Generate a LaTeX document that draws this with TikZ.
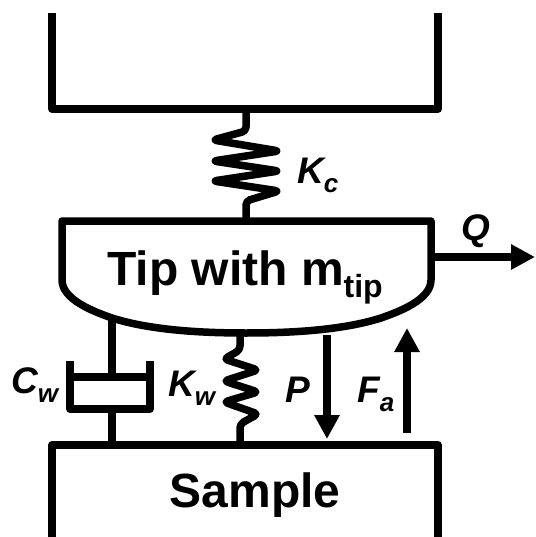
\documentclass[tikz,border=0pt]{standalone}
\usepackage{fontspec}
\setmainfont{Liberation Sans}
\usepackage{tikz}
\usetikzlibrary{arrows.meta}
\tikzset{
  thick line/.style={line width=7.5pt,line join=round},
  force/.style={line width=8pt,-{Triangle[length=24pt,width=24pt]}},
  big label/.style={font=\fontsize{48}{48}\selectfont\bfseries,inner sep=0pt,anchor=base},
  sym label/.style={font=\fontsize{37}{37}\selectfont\bfseries\itshape,inner sep=0pt,anchor=base west},
}
\newcommand{\subtxt}[1]{\raisebox{-9pt}{\fontsize{26}{26}\selectfont #1}}
\begin{document}
\begin{tikzpicture}[x=1pt,y=-1pt]
\useasboundingbox (0,0) rectangle (535,537);
\clip (0,0) rectangle (535,537);
% holder and sample
\draw[thick line](52,13)coordinate(HL)--(52,109)--(438,109)coordinate(HR)--(438,13);
\draw[thick line](52,537)--(52,445)coordinate(SL)--(438,445)coordinate(SR)--(438,537);
% tip
\draw[thick line](62,221)coordinate(TL)--(431,221)coordinate(TR)--(431,280)
.. controls (431,300) and (398,312) .. (381,318)
.. controls (343,330) and (293,333) .. (246,333)coordinate(TB)
.. controls (200,333) and (150,330) .. (112,318)coordinate(DT)
.. controls (95,312) and (62,300) .. (62,280)--cycle;
\coordinate(KcTop)at(246,109);
\coordinate(KcBot)at(246,221);
\coordinate(KwTop)at(240,333);
\coordinate(KwBot)at(240,445);
% upper spring
\draw[thick line,rounded corners=4pt](KcTop)--(246,131)--(213,140)--(279,151)--(213,161)--(279,171)
--(213,181)--(279,191)--(246,201)--(KcBot);
% lower spring
\draw[thick line,rounded corners=4pt](KwTop)--(240,350)--(224,359)--(258,370)--(224,381)--(258,392)
--(224,402)--(258,414)--(240,424)--(KwBot);
% damper
\draw[thick line](DT)--(112,377)coordinate(DP);
\draw[thick line](70,361)--(70,409)--(150,409)--(150,361);
\draw[thick line](70,377)--(150,377);
\draw[thick line](112,409)--(112,445)coordinate(DB);
% forces
\draw[force](431,257)coordinate(QS)--(535,257)coordinate(QE);
\draw[force](327,335)coordinate(PS)--(327,439)coordinate(PE);
\draw[force](407,433)coordinate(FS)--(407,328)coordinate(FE);
% labels
\node[big label](tip)at(245,285){Tip with m\raisebox{-12pt}{\fontsize{32}{32}\selectfont tip}};
\node[big label](sample)at(255,507){Sample};
\node[sym label](kc)at(297,184){K\subtxt{c}};
\node[sym label](q)at(461,240){Q};
\node[sym label](cw)at(11,393){C\subtxt{w}};
\node[sym label](kw)at(168,396){K\subtxt{w}};
\node[sym label](p)at(285,402){P};
\node[sym label](fa)at(357,402){F\subtxt{a}};
\end{tikzpicture}
\end{document}
